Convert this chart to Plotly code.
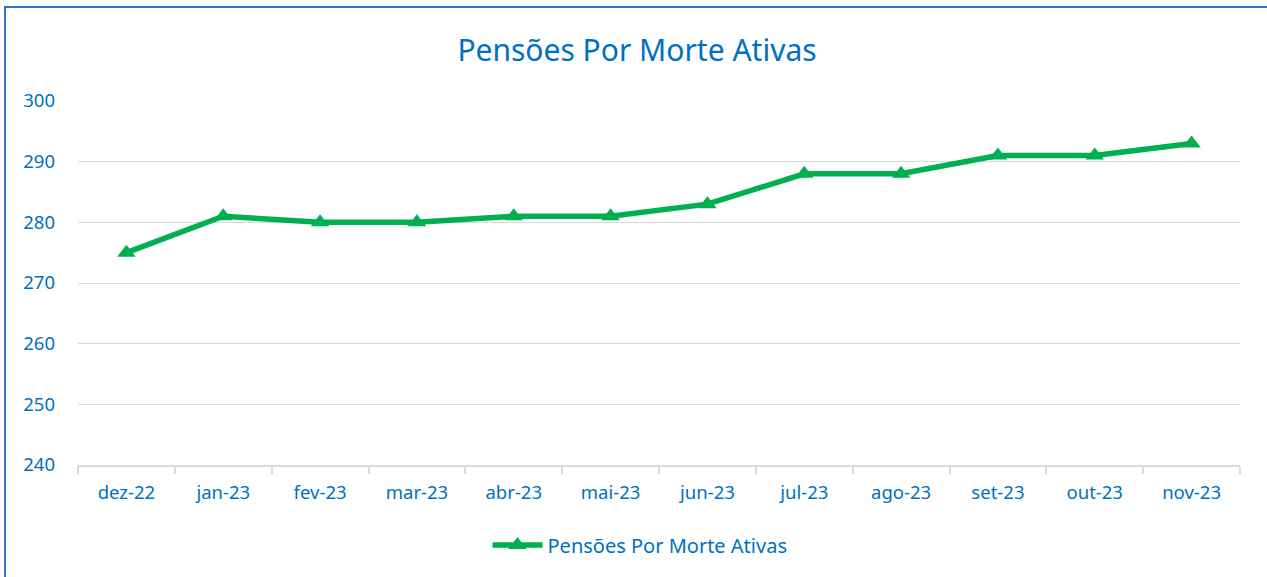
import plotly.graph_objects as go

categories = ["dez-22", "jan-23", "fev-23", "mar-23", "abr-23", "mai-23",
              "jun-23", "jul-23", "ago-23", "set-23", "out-23", "nov-23"]
values = [275, 281, 280, 280, 281, 281, 283, 288, 288, 291, 291, 293]
series_name = "Pensões Por Morte Ativas"
y_ticks = [240, 250, 260, 270, 280, 290, 300]

BLUE = "#0070C0"
GREEN = "#00B050"
FONT = "Noto Sans"

fig = go.Figure()
fig.add_trace(go.Scatter(
    x=categories, y=values, name=series_name, mode="lines+markers",
    line=dict(color=GREEN, width=5.5),
    marker=dict(symbol="triangle-up", size=16, color=GREEN),
))

W, H = 1267, 577
ml, mr, mt, mb = 78, 27, 101, 112
pw, ph = W - ml - mr, H - mt - mb

def px_x(p):
    return (p - ml) / pw

def px_y(p):
    return (H - mb - p) / ph

border = dict(color="#2E75C6", width=2)
# top edge of the chart frame
fig.add_shape(type="line", xref="paper", yref="paper",
              x0=px_x(4), x1=px_x(1320), y0=px_y(7), y1=px_y(7),
              line=border, layer="below")
# left edge of the chart frame
fig.add_shape(type="line", xref="paper", yref="paper",
              x0=px_x(5), x1=px_x(5), y0=px_y(6), y1=px_y(640),
              line=border, layer="below")

fig.update_layout(
    width=W, height=H,
    margin=dict(l=ml, r=mr, t=mt, b=mb),
    paper_bgcolor="white", plot_bgcolor="white",
    font=dict(family=FONT, color=BLUE, size=18),
    title=dict(text=series_name, x=637 / W, xref="container", xanchor="center",
               y=1 - 50 / H, yref="container", yanchor="middle",
               font=dict(size=30, color=BLUE, family=FONT)),
    showlegend=True,
    legend=dict(orientation="h", x=px_x(640), xanchor="center", xref="paper",
                y=px_y(545), yanchor="middle", font=dict(size=20, color=BLUE),
                itemwidth=50),
    xaxis=dict(type="category", range=[-0.5, 11.5], tickson="boundaries",
               ticks="outside", ticklen=7, tickcolor="#D9D9D9", tickwidth=2,
               showline=True, linecolor="#D9D9D9", linewidth=2,
               showgrid=False, ticklabelstandoff=10,
               tickfont=dict(size=18.5, color=BLUE, family=FONT)),
    yaxis=dict(range=[240, 300], tickvals=y_ticks, showgrid=True,
               gridcolor="#D9D9D9", gridwidth=1.3, zeroline=False,
               showline=False, ticks="", ticklabelstandoff=22,
               tickfont=dict(size=18.5, color=BLUE, family=FONT)),
)

fig.write_html("out.html", config={"displayModeBar": False},
               post_script="document.body.style.margin='0';document.body.style.overflow='hidden';")
